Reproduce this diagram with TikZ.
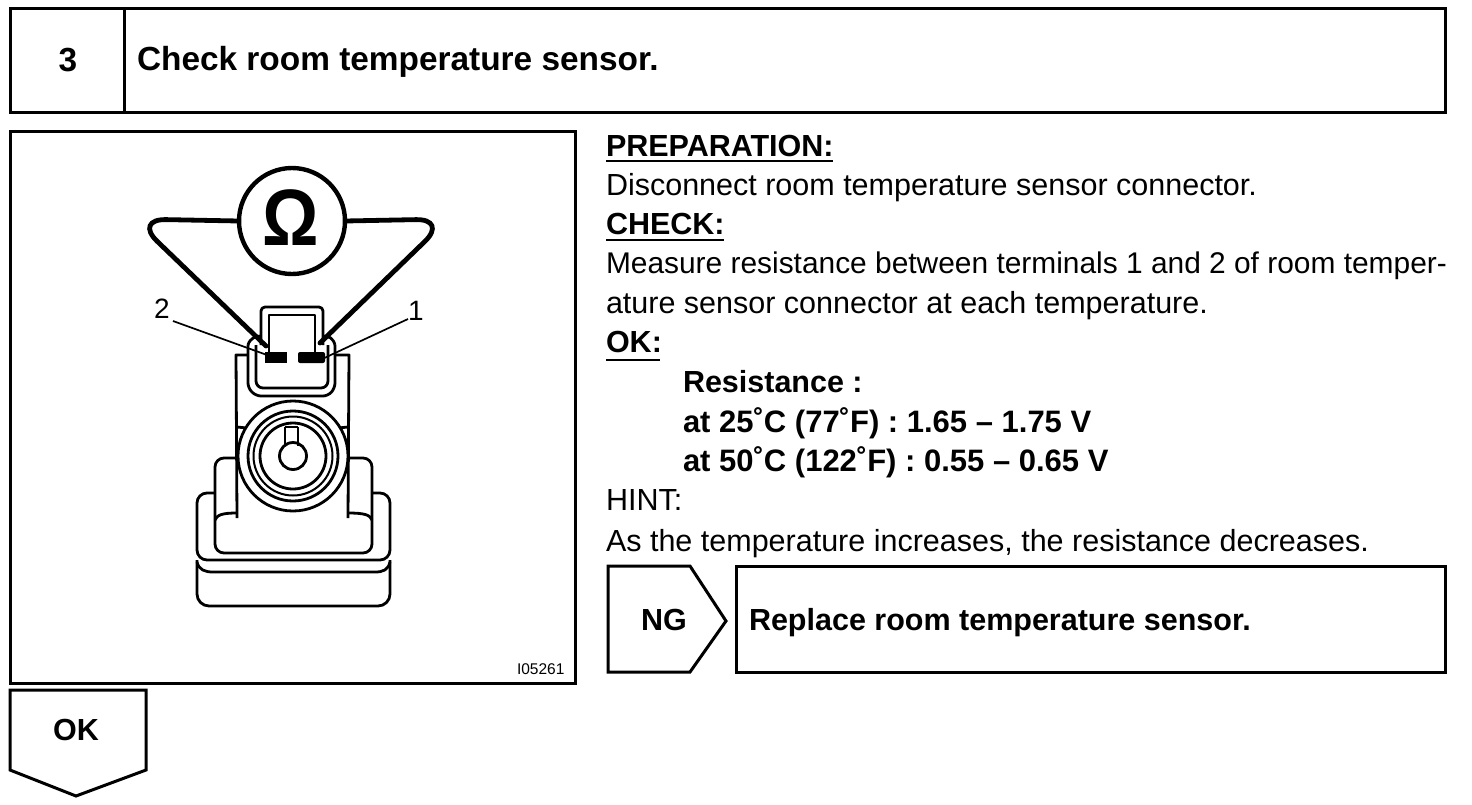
\documentclass[tikz,border=0pt]{standalone}
\usepackage{fontspec}
\setmainfont{Liberation Sans}
\newcommand{\bodyfs}{\fontsize{30.5}{34}\selectfont}
\newcommand{\bodytight}{\fontsize{29.9}{34}\selectfont}
\newcommand{\headfs}{\fontsize{33.4}{38}\selectfont\bfseries}
\newcommand{\subfs}{\fontsize{30.5}{34}\selectfont\bfseries}
\newcommand{\valfs}{\fontsize{31}{34}\selectfont\bfseries}
\tikzset{
  frame/.style={draw=black,line width=3pt,fill=none,outer sep=0pt},
  txt/.style={anchor=base west,inner sep=0pt,outer sep=0pt,text=black},
  body/.style={txt,font=\bodyfs},
  bold/.style={txt,font=\subfs},
  lbl/.style={anchor=center,inner sep=0pt,font=\headfs},
  wire/.style={draw=black,line width=4.8pt,line cap=round,rounded corners=32pt},
  part/.style={draw=black,line width=2.8pt,line join=round},
  thin/.style={draw=black,line width=1.7pt},
  under/.style={draw=black,line width=1.6pt},
}
\begin{document}
\begin{tikzpicture}[x=1pt,y=-1pt]
\useasboundingbox (0,0) rectangle (1472,804);
\fill[white] (0,0) rectangle (1472,804);
% header
\node[frame,rectangle,inner sep=0pt,minimum width=114pt,minimum height=104pt,anchor=north west] (numbox) at (10,8) {};
\node[frame,rectangle,inner sep=0pt,minimum width=1321pt,minimum height=104pt,anchor=north west] (titlebox) at (124,8) {};
\node[lbl] (num) at (68,60) {3};
\node[txt,font=\headfs] (title) at (137,70) {Check room temperature sensor.};
% illustration frame
\node[frame,rectangle,inner sep=0pt,minimum width=565pt,minimum height=552pt,anchor=north west] (figbox) at (10,131) {};
\node[txt,font=\fontsize{15.5}{17}\selectfont] (code) at (517,674) {I05261};
% meter
\node[draw=black,line width=4.4pt,circle,inner sep=0pt,minimum size=106pt,outer sep=0pt] (ohm) at (292,221) {};
\node[inner sep=0pt,xscale=.88,font=\fontsize{80}{84}\selectfont\bfseries] (omega) at (291,218) {Ω};
\coordinate (tl) at (134,219);
\coordinate (tr) at (448,219);
\coordinate (p2) at (266,346);
\coordinate (p1) at (320,343);
\draw[wire] (ohm.180) -- (tl) -- (p2);
\draw[wire] (ohm.0) -- (tr) -- (p1);
% connector hood
\draw[part,rounded corners=5pt] (248,345) -- (248,388) -- (256,396) -- (328,396) -- (335,388) -- (335,345);
\draw[part] (248,345) .. controls (250,338) and (256,336) .. (261,336);
\draw[part] (335,345) .. controls (333,338) and (329,336) .. (323,336);
\draw[part,rounded corners=4pt] (261,345) -- (261,307) -- (323,307) -- (323,345);
\draw[part] (269,352) -- (269,315) -- (315,315) -- (315,352);
\draw[part,rounded corners=7pt] (256,345) -- (256,388) -- (328,388) -- (328,345);
% terminals
\fill[black] (265,352) rectangle (287,363);
\fill[black,rounded corners=2pt] (298,352) rectangle (325,363);
% body
\draw[part] (248,355) -- (236,355) -- (237,518);
\draw[part] (335,355) -- (349,355) -- (348,518);
\draw[part] (237,427) -- (247,428);
\draw[part] (348,427) -- (338,428);
\node[draw=black,fill=white,line width=2.8pt,circle,inner sep=0pt,minimum size=110pt] (hub) at (293,456) {};
\node[draw=black,line width=2.8pt,circle,inner sep=0pt,minimum size=90pt] (ring1) at (293,456) {};
\node[draw=black,line width=2pt,circle,inner sep=0pt,minimum size=79pt] (ring2) at (293,456) {};
\node[draw=black,line width=2.8pt,circle,inner sep=0pt,minimum size=66pt] (ring3) at (293,456) {};
\draw[part] (285,427) -- (285,446);
\draw[part] (298,427) -- (298,446);
\draw[part] (285,427) -- (298,427);
\node[draw=black,line width=2.8pt,circle,inner sep=0pt,minimum size=27pt] (pin) at (293,456) {};
% shoulders
\draw[part,rounded corners=9pt] (237,458) -- (215,458) -- (215,553) -- (372,553) -- (372,458) -- (348,458);
\draw[part] (215,520) .. controls (217,515) and (222,513) .. (237,513);
\draw[part] (372,520) .. controls (370,515) and (365,513) .. (348,513);
% base
\draw[part,rounded corners=10pt] (215,493) -- (197,493) -- (197,560) -- (390,560) -- (390,493) -- (372,493);
\draw[part,rounded corners=12pt] (197,560) -- (197,606) -- (390,606) -- (390,560);
\draw[part] (197,562) .. controls (199,570) and (205,572) .. (213,572) -- (375,572) .. controls (383,572) and (388,570) .. (390,562);
% leaders
\node[inner sep=0pt,font=\fontsize{28}{30}\selectfont] (n2) at (162,309) {2};
\node[inner sep=0pt,font=\fontsize{28}{30}\selectfont] (n1) at (416,311) {1};
\coordinate (t2) at (267,355);
\coordinate (t1) at (320,360);
\draw[thin] (173,321) -- (t2);
\draw[thin] (408,319) -- (t1);
% right text
\node[bold] (prep) at (606,156) {PREPARATION:};
\draw[under] (prep.base west) ++(0,5) -- ++(227,0);
\node[body] (l1) at (606,195) {Disconnect room temperature sensor connector.};
\node[bold] (chk) at (606,234) {CHECK:};
\draw[under] (chk.base west) ++(0,6) -- ++(118,0);
\node[txt,font=\bodytight] (l2) at (606,273) {Measure resistance between terminals 1 and 2 of room temper-};
\node[body] (l3) at (606,313) {ature sensor connector at each temperature.};
\node[bold] (ok) at (606,352) {OK:};
\draw[under] (ok.base west) ++(0,8) -- ++(54,0);
\node[bold] (r0) at (683,392) {Resistance :};
\node[txt,font=\valfs] (r1) at (683,432) {at 25˚C (77˚F) : 1.65 – 1.75 V};
\node[txt,font=\valfs] (r2) at (683,471) {at 50˚C (122˚F) : 0.55 – 0.65 V};
\node[body] (hint) at (606,510) {HINT:};
\node[body] (l4) at (606,551) {As the temperature increases, the resistance decreases.};
% NG
\draw[frame,line join=miter] (608,566) -- (690,566) -- (726,621) -- (690,672) -- (608,672) -- cycle;
\node[lbl,font=\subfs] (ng) at (664,620) {NG};
\node[frame,rectangle,inner sep=0pt,minimum width=709pt,minimum height=106pt,anchor=north west] (ngbox) at (736,566) {};
\node[bold] (rep) at (749,630) {Replace room temperature sensor.};
% OK
\draw[frame,line join=miter] (10,690) -- (146,690) -- (146,770) -- (76,796) -- (10,770) -- cycle;
\node[lbl,font=\subfs] (okl) at (76,730) {OK};
\end{tikzpicture}
\end{document}
